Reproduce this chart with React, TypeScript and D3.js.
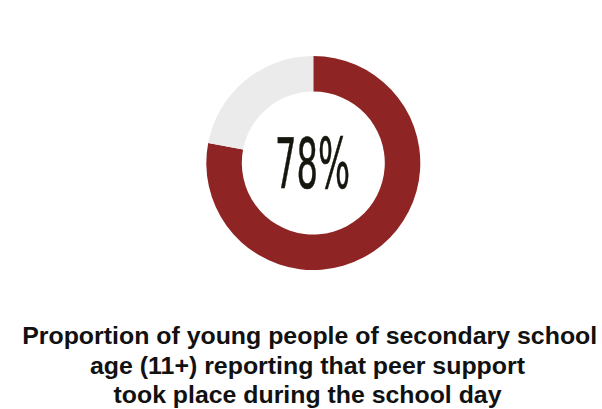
import React from "react";
import * as d3 from "d3";

const categories = ["Yes", "No"];
const values = [78, 22];
const colors = ["#8e2424", "#ebebeb"];
const centerLabel = "78%";
const titleLines = [
  "Proportion of young people of secondary school",
  "age (11+) reporting that peer support",
  "took place during the school day",
];
const titleWidths = [575, 435, 388];

export default function App() {
  const W = 602, H = 409;
  const cx = 313.3, cy = 163, rOuter = 107, rInner = 71.5;
  const pie = d3.pie<number>().sort(null).value((d) => d)(values);
  const arc = d3.arc<d3.PieArcDatum<number>>().innerRadius(rInner).outerRadius(rOuter);
  return (
    <svg width={W} height={H} style={{ position: "absolute", left: 0, top: 0, background: "#fff" }}>
      <g transform={`translate(${cx},${cy})`}>
        {pie.map((p, i) => (
          <path key={categories[i]} d={arc(p) || ""} fill={colors[i]} />
        ))}
        <text
          x={-0.8}
          y={25}
          textAnchor="middle"
          textLength={75}
          lengthAdjust="spacingAndGlyphs"
          fontFamily="'DejaVu Sans', sans-serif"
          fontSize={70}
          fill="#16160f"
          stroke="#16160f"
          strokeWidth={0.6}
        >
          {centerLabel}
        </text>
      </g>
      {titleLines.map((t, i) => (
        <text
          key={i}
          x={i === 0 ? 309.7 : 307.5}
          y={344.3 + i * 29.5}
          textAnchor="middle"
          textLength={titleWidths[i]}
          lengthAdjust="spacingAndGlyphs"
          fontFamily="'Liberation Sans', Arial, sans-serif"
          fontWeight="bold"
          fontSize={24.2}
          fill="#111"
        >
          {t}
        </text>
      ))}
    </svg>
  );
}
